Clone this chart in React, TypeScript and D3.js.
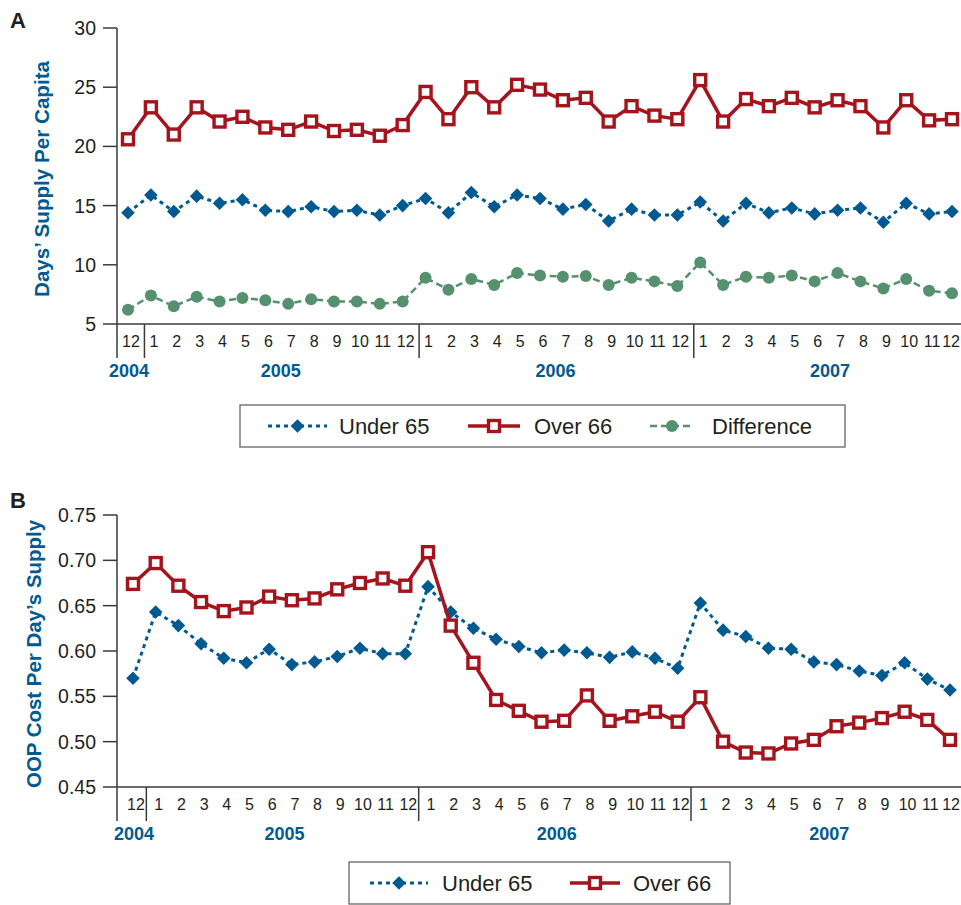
import * as d3 from 'd3';

// month ticks, Dec 2004 .. Dec 2007
const monthLabels = [
  '12',
  '1', '2', '3', '4', '5', '6', '7', '8', '9', '10', '11', '12',
  '1', '2', '3', '4', '5', '6', '7', '8', '9', '10', '11', '12',
  '1', '2', '3', '4', '5', '6', '7', '8', '9', '10', '11', '12',
];
const yearLabels = ['2004', '2005', '2006', '2007'];

// panel A: days' supply per capita
const supplyUnder65 = [
  14.4,
  15.9, 14.5, 15.8, 15.2, 15.5, 14.6, 14.5, 14.9, 14.5, 14.6, 14.2, 15.0,
  15.6, 14.4, 16.1, 14.9, 15.9, 15.6, 14.7, 15.1, 13.7, 14.7, 14.2, 14.2,
  15.3, 13.7, 15.2, 14.4, 14.8, 14.3, 14.6, 14.8, 13.6, 15.2, 14.3, 14.5,
];
const supplyOver66 = [
  20.6,
  23.3, 21.0, 23.3, 22.1, 22.5, 21.6, 21.4, 22.1, 21.3, 21.4, 20.9, 21.8,
  24.6, 22.3, 25.0, 23.3, 25.2, 24.8, 23.9, 24.1, 22.1, 23.4, 22.6, 22.3,
  25.6, 22.1, 24.0, 23.4, 24.1, 23.3, 23.9, 23.4, 21.6, 23.9, 22.2, 22.3,
];
const supplyDifference = [
  6.2,
  7.4, 6.5, 7.3, 6.9, 7.2, 7.0, 6.7, 7.1, 6.9, 6.9, 6.7, 6.9,
  8.9, 7.9, 8.8, 8.3, 9.3, 9.1, 9.0, 9.05, 8.3, 8.9, 8.6, 8.2,
  10.2, 8.3, 9.0, 8.9, 9.1, 8.6, 9.3, 8.6, 8.0, 8.8, 7.8, 7.6,
];
const supplyTicks = [5, 10, 15, 20, 25, 30];

// panel B: OOP cost per day's supply
const costUnder65 = [
  0.570,
  0.643, 0.628, 0.608, 0.592, 0.587, 0.602, 0.585, 0.588, 0.594, 0.603, 0.597, 0.597,
  0.671, 0.643, 0.625, 0.613, 0.605, 0.598, 0.601, 0.598, 0.593, 0.599, 0.592, 0.581,
  0.653, 0.623, 0.616, 0.603, 0.602, 0.588, 0.585, 0.578, 0.573, 0.587, 0.569, 0.557,
];
const costOver66 = [
  0.674,
  0.697, 0.672, 0.654, 0.644, 0.648, 0.660, 0.656, 0.658, 0.668, 0.675, 0.680, 0.672,
  0.709, 0.628, 0.587, 0.546, 0.534, 0.522, 0.523, 0.551, 0.523, 0.528, 0.533, 0.522,
  0.549, 0.500, 0.488, 0.487, 0.498, 0.502, 0.517, 0.521, 0.526, 0.533, 0.524, 0.502,
];
const costTicks = [0.45, 0.5, 0.55, 0.6, 0.65, 0.7, 0.75];

const BLUE = '#005a92';
const RED = '#a5141c';
const GREEN = '#55916e';
const INK = '#231f20';
const AXIS = '#3a3a3a';
const FONT = '"Liberation Sans", Arial, sans-serif';

const styles = {
  under: { color: BLUE, dash: '4,4', width: 3, marker: 'diamond', label: 'Under 65' },
  over: { color: RED, dash: null, width: 3.5, marker: 'square', label: 'Over 66' },
  diff: { color: GREEN, dash: '7,4', width: 2.5, marker: 'circle', label: 'Difference' },
};

const Marker = ({ kind, cx, cy, color }) => {
  if (kind === 'diamond') {
    return <rect x={cx - 4.8} y={cy - 4.8} width={9.6} height={9.6} fill={color}
      transform={`rotate(45 ${cx} ${cy})`} />;
  }
  if (kind === 'square') {
    return <rect x={cx - 5.5} y={cy - 5.5} width={11} height={11} fill="#fff"
      stroke={color} strokeWidth={3.4} />;
  }
  return <circle cx={cx} cy={cy} r={6} fill={color} />;
};

const Panel = ({ letter, letterY, title, titleX, titleLen, yTop, yBottom, domain, ticks, fmt, xRange, series, sepShift }) => {
  const axisX = 117;
  const last = monthLabels.length - 1;
  const x = d3.scaleLinear().domain([0, last]).range(xRange);
  const y = d3.scaleLinear().domain(domain).range([yBottom, yTop]);
  const step = x(1) - x(0);
  const yearOf = (i) => (i === 0 ? 0 : Math.floor((i - 1) / 12) + 1);
  const seps = monthLabels.map((m, i) => i).filter((i) => monthLabels[i] === '1');
  const tickBottom = yBottom + 34;

  return (
    <g>
      <text x={10} y={letterY} fontFamily={FONT} fontWeight="bold" fontSize={22} fill={INK}>{letter}</text>
      <text transform={`translate(${titleX},${(yTop + yBottom) / 2 + 3}) rotate(-90)`} textAnchor="middle"
        fontFamily={FONT} fontWeight="bold" fontSize={20} fill={BLUE}
        textLength={titleLen} lengthAdjust="spacingAndGlyphs">{title}</text>

      {ticks.map((t) => (
        <g key={t}>
          <line x1={axisX - 14} x2={axisX} y1={y(t)} y2={y(t)} stroke={AXIS} strokeWidth={1.5} />
          <text x={axisX - 21} y={y(t)} dy="0.36em" textAnchor="end" fontFamily={FONT} fontSize={19.5} fill={INK}>{fmt(t)}</text>
        </g>
      ))}
      <line x1={axisX} x2={axisX} y1={yTop} y2={tickBottom} stroke={AXIS} strokeWidth={1.5} />
      <line x1={axisX} x2={961} y1={yBottom} y2={yBottom} stroke={AXIS} strokeWidth={1.5} />
      {seps.map((i) => (
        <line key={i} x1={x(i) - step / 2 + sepShift} x2={x(i) - step / 2 + sepShift}
          y1={yBottom} y2={tickBottom} stroke={AXIS} strokeWidth={1.5} />
      ))}
      {monthLabels.map((m, i) => (
        <text key={i} x={i === last ? 960 : x(i) + 3} y={yBottom + 23}
          textAnchor={i === last ? 'end' : 'middle'} fontFamily={FONT} fontSize={16} fill={INK}>{m}</text>
      ))}
      {yearLabels.map((yr, k) => {
        const idx = monthLabels.map((m, i) => i).filter((i) => yearOf(i) === k);
        return (
          <text key={yr} x={x(d3.mean(idx)) + (k === 0 ? 1 : 4)} y={yBottom + 53} textAnchor="middle"
            fontFamily={FONT} fontWeight="bold" fontSize={18} fill={BLUE}>{yr}</text>
        );
      })}

      {series.map(({ values, style }) => {
        const line = d3.line().x((d, i) => x(i)).y((d) => y(d));
        return (
          <g key={style.label}>
            <path d={line(values)} fill="none" stroke={style.color} strokeWidth={style.width}
              strokeDasharray={style.dash || undefined} />
            {values.map((v, i) => (
              <Marker key={i} kind={style.marker} cx={x(i)} cy={y(v)} color={style.color} />
            ))}
          </g>
        );
      })}
    </g>
  );
};

const Legend = ({ box, items }) => (
  <g>
    <rect x={box[0]} y={box[1]} width={box[2]} height={box[3]} fill="#fff" stroke="#666" strokeWidth={1.3} />
    {items.map(({ style, x0, x1, tx }) => {
      const cy = box[1] + box[3] / 2;
      return (
        <g key={style.label}>
          <line x1={x0} x2={x1} y1={cy} y2={cy} stroke={style.color} strokeWidth={style.width}
            strokeDasharray={style.dash || undefined} />
          <Marker kind={style.marker} cx={(x0 + x1) / 2} cy={cy} color={style.color} />
          <text x={tx} y={cy} dy="0.36em" fontFamily={FONT} fontSize={22} fill={INK}>{style.label}</text>
        </g>
      );
    })}
  </g>
);

export default function App() {
  return (
    <svg width={961} height={905} style={{ position: 'absolute', left: 0, top: 0, background: '#fff' }}>
      <Panel letter="A" letterY={28} title="Days’ Supply Per Capita" titleX={49} titleLen={236}
        yTop={28} yBottom={324} domain={[5, 30]} ticks={supplyTicks} fmt={(t) => String(t)}
        xRange={[128, 952]} sepShift={5}
        series={[
          { values: supplyOver66, style: styles.over },
          { values: supplyUnder65, style: styles.under },
          { values: supplyDifference, style: styles.diff },
        ]} />
      <Legend box={[240, 405, 605, 42]} items={[
        { style: styles.under, x0: 268, x1: 327, tx: 339 },
        { style: styles.over, x0: 468, x1: 520, tx: 534 },
        { style: styles.diff, x0: 650, x1: 694, tx: 712 },
      ]} />
      <Panel letter="B" letterY={508} title="OOP Cost Per Day’s Supply" titleX={41} titleLen={268}
        yTop={515} yBottom={787} domain={[0.45, 0.75]} ticks={costTicks} fmt={d3.format('.2f')}
        xRange={[133, 950]} sepShift={2}
        series={[
          { values: costUnder65, style: styles.under },
          { values: costOver66, style: styles.over },
        ]} />
      <Legend box={[349, 862, 381, 42]} items={[
        { style: styles.under, x0: 370, x1: 428, tx: 442 },
        { style: styles.over, x0: 570, x1: 620, tx: 633 },
      ]} />
    </svg>
  );
}
